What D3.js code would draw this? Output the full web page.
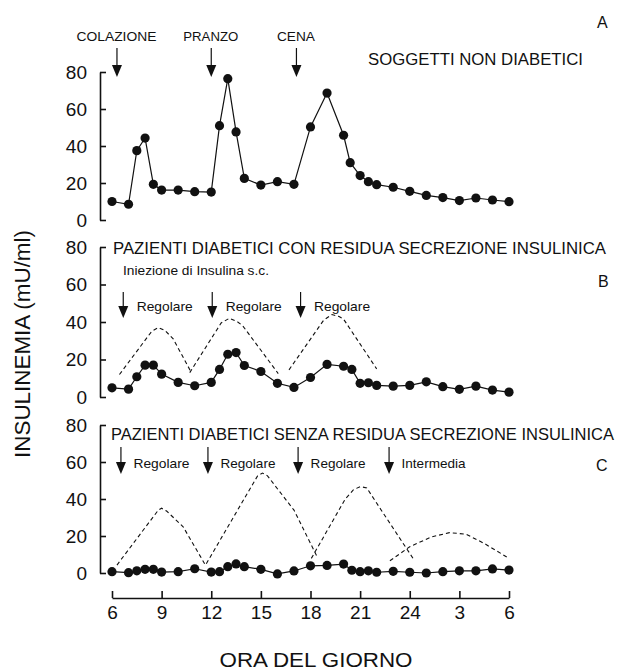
<!DOCTYPE html>
<html>
<head>
<meta charset="utf-8">
<script src="https://cdn.jsdelivr.net/npm/d3@7"></script>
<style>
  html, body { margin: 0; padding: 0; background: #fff; }
  svg { display: block; }
  text { font-family: "Liberation Sans", Arial, sans-serif; fill: #111; }
</style>
</head>
<body>
<svg id="chart" width="624" height="672"></svg>
<script>
// ---------- DATA ----------
const hourTicks = [6, 9, 12, 15, 18, 21, 24, 27, 30];
const hourLabels = ["6", "9", "12", "15", "18", "21", "24", "3", "6"];
const yTicks = [0, 20, 40, 60, 80];

// Panel A: soggetti non diabetici
const timesA = [6, 7, 7.5, 8, 8.5, 9, 10, 11, 12, 12.5, 13, 13.5, 14, 15, 16, 17, 18, 19, 20, 20.4, 21, 21.5, 22, 23, 24, 25, 26, 27, 28, 29, 30];
const valuesA = [10, 8.5, 37.5, 44.3, 19.3, 16.2, 16.2, 15.3, 15.1, 51, 76.4, 47.6, 22.5, 18.9, 20.7, 19.3, 50.3, 68.6, 45.8, 31, 24, 20.7, 19.1, 17.7, 15.5, 13.3, 12.1, 10.5, 11.9, 10.8, 9.9];
const mealTimes = [6.3, 12.0, 17.15];
const mealLabels = ["COLAZIONE", "PRANZO", "CENA"];

// Panel B: diabetici con residua secrezione
const timesB = [6, 7, 7.5, 8, 8.5, 9, 10, 11, 12, 12.5, 13, 13.5, 14, 15, 16, 17, 18, 19, 20, 20.5, 21, 21.5, 22, 23, 24, 25, 26, 27, 28, 29, 30];
const valuesB = [4.9, 4.2, 10.8, 17, 17, 12.2, 7.8, 6.0, 7.8, 14.7, 22.8, 23.7, 16.8, 13.6, 7.3, 5.1, 10.4, 17.4, 16.4, 14.7, 7.3, 7.6, 6.2, 5.8, 6.2, 8.1, 5.5, 4.1, 5.8, 3.7, 2.6];
const injTimesB = [6.68, 12.06, 17.4];
const injLabelsB = ["Regolare", "Regolare", "Regolare"];
const curvesB = [
  [[6.45, 12], [8.4, 35], [8.8, 37], [9.2, 35.5], [9.7, 31], [10.8, 13]],
  [[10.7, 13], [12.6, 39.5], [13.1, 42], [13.6, 40], [13.9, 38], [16.05, 12.5]],
  [[16.7, 14.5], [18.8, 41], [19.3, 44], [19.7, 43], [20.0, 41.5], [22.0, 15]]
];

// Panel C: diabetici senza residua secrezione
const timesC = [6, 7, 7.5, 8, 8.5, 9, 10, 11, 12, 12.5, 13, 13.5, 14, 15, 16, 17, 18, 19, 20, 20.5, 21, 21.5, 22, 23, 24, 25, 26, 27, 28, 29, 30];
const valuesC = [0.7, 0.2, 1.2, 2.0, 2.0, 0.5, 0.7, 2.3, 0.5, 0.7, 3.4, 4.9, 3.4, 2.0, -0.5, 1.1, 3.9, 4.1, 4.8, 1.5, 0.7, 1.2, 0.4, 0.9, 0.4, 0, 0.7, 1.2, 1.2, 2.2, 1.6];
const injTimesC = [6.54, 11.8, 17.25, 22.75];
const injLabelsC = ["Regolare", "Regolare", "Regolare", "Intermedia"];
const curvesC = [
  [[6.3, 4.3], [8.8, 34], [9.0, 35], [9.3, 33.5], [10.3, 25], [11.6, 5]],
  [[11.7, 5], [14.8, 52.5], [15.1, 54], [15.4, 52.5], [17.0, 34], [18.4, 8.8]],
  [[18.05, 7.9], [20.1, 40], [20.6, 45], [21.0, 46.7], [21.4, 46], [22.4, 32.3], [24.2, 7.9]],
  [[22.8, 6.6], [24.0, 14.2], [25.3, 19.5], [26.4, 21.8], [27.4, 21], [28.5, 16], [30, 7.9]]
];

// ---------- LAYOUT ----------
const svg = d3.select("#chart");
svg.append("rect").attr("width", 624).attr("height", 672).attr("fill", "#fff");

const x = d3.scaleLinear().domain([6, 30]).range([112, 509]);
const yA = d3.scaleLinear().domain([0, 80]).range([220, 72]);
const yB = d3.scaleLinear().domain([0, 80]).range([397, 247]);
const yC = d3.scaleLinear().domain([0, 80]).range([573, 425]);
const axisX = 100;

function yAxis(y) {
  const g = svg.append("g").attr("transform", `translate(${axisX},0)`)
    .call(d3.axisLeft(y).tickValues(yTicks).tickSizeInner(-6).tickSizeOuter(0).tickPadding(13).tickFormat(d3.format("d")));
  g.select(".domain").attr("stroke", "#111").attr("stroke-width", 1.6);
  g.selectAll(".tick line").attr("stroke", "#111").attr("stroke-width", 1.6);
  g.selectAll(".tick text").attr("font-size", 19).attr("font-family", "Liberation Sans, Arial, sans-serif").attr("fill", "#111");
}
[yA, yB, yC].forEach(yAxis);

// X axis
const gx = svg.append("g").attr("transform", "translate(0,598)")
  .call(d3.axisBottom(x).tickValues(hourTicks).tickSizeInner(-7).tickSizeOuter(0).tickPadding(8)
    .tickFormat((d, i) => hourLabels[i]));
gx.select(".domain").attr("stroke", "#111").attr("stroke-width", 1.6);
gx.selectAll(".tick line").attr("stroke", "#111").attr("stroke-width", 1.6);
gx.selectAll(".tick text").attr("font-size", 19).attr("font-family", "Liberation Sans, Arial, sans-serif").attr("fill", "#111");

svg.append("text").attr("x", 316).attr("y", 667).attr("text-anchor", "middle")
  .attr("font-size", 21)
  .attr("textLength", 193).attr("lengthAdjust", "spacingAndGlyphs").text("ORA DEL GIORNO");

svg.append("text").attr("transform", "translate(23,344) rotate(-90)").attr("text-anchor", "middle")
  .attr("dominant-baseline", "central").attr("font-size", 21.5)
  .attr("textLength", 228).attr("lengthAdjust", "spacingAndGlyphs").text("INSULINEMIA (mU/ml)");

// ---------- series ----------
function series(times, values, y) {
  const pts = times.map((t, i) => [t, values[i]]);
  svg.append("path").datum(pts)
    .attr("d", d3.line().x(d => x(d[0])).y(d => y(d[1])))
    .attr("fill", "none").attr("stroke", "#111").attr("stroke-width", 1.2);
  svg.append("g").selectAll("circle").data(pts).join("circle")
    .attr("cx", d => x(d[0])).attr("cy", d => y(d[1])).attr("r", 4.6).attr("fill", "#111");
}
function dashed(curves, y) {
  curves.forEach(c => {
    svg.append("path").datum(c)
      .attr("d", d3.line().x(d => x(d[0])).y(d => y(d[1])))
      .attr("fill", "none").attr("stroke", "#111").attr("stroke-width", 1.1)
      .attr("stroke-dasharray", "4,3");
  });
}
function arrow(xp, y0, y1) {
  svg.append("line").attr("x1", xp).attr("x2", xp).attr("y1", y0).attr("y2", y1 - 10)
    .attr("stroke", "#111").attr("stroke-width", 1.2);
  svg.append("path").attr("d", `M${xp - 5},${y1 - 12} L${xp + 5},${y1 - 12} L${xp},${y1} Z`).attr("fill", "#111");
}

dashed(curvesB, yB);
dashed(curvesC, yC);
series(timesA, valuesA, yA);
series(timesB, valuesB, yB);
series(timesC, valuesC, yC);

// Panel A annotations
const mealWidths = [80, 55, 38];
mealTimes.forEach((t, i) => {
  arrow(x(t), 48, 77);
  svg.append("text").attr("x", x(t) - 0.5).attr("y", 36).attr("text-anchor", "middle")
    .attr("dominant-baseline", "central").attr("font-size", 13)
    .attr("textLength", mealWidths[i]).attr("lengthAdjust", "spacingAndGlyphs").text(mealLabels[i]);
});
svg.append("text").attr("x", 368).attr("y", 59).attr("dominant-baseline", "central").attr("font-size", 16)
  .attr("textLength", 215).attr("lengthAdjust", "spacingAndGlyphs").text("SOGGETTI NON DIABETICI");
svg.append("text").attr("x", 597).attr("y", 22).attr("dominant-baseline", "central").attr("font-size", 16).text("A");

// Panel B annotations
svg.append("text").attr("x", 113).attr("y", 248).attr("dominant-baseline", "central").attr("font-size", 16.5)
  .attr("textLength", 493).attr("lengthAdjust", "spacingAndGlyphs").text("PAZIENTI DIABETICI CON RESIDUA SECREZIONE INSULINICA");
svg.append("text").attr("x", 123).attr("y", 270).attr("dominant-baseline", "central").attr("font-size", 13)
  .attr("textLength", 146).attr("lengthAdjust", "spacingAndGlyphs").text("Iniezione di Insulina s.c.");
svg.append("text").attr("x", 598).attr("y", 281).attr("dominant-baseline", "central").attr("font-size", 16).text("B");
injTimesB.forEach((t, i) => {
  arrow(x(t), 292, 318);
  svg.append("text").attr("x", x(t) + 13.5).attr("y", 306).attr("dominant-baseline", "central").attr("font-size", 13)
    .attr("textLength", 56).attr("lengthAdjust", "spacingAndGlyphs").text(injLabelsB[i]);
});

// Panel C annotations
svg.append("text").attr("x", 111).attr("y", 434).attr("dominant-baseline", "central").attr("font-size", 16.4)
  .attr("textLength", 503).attr("lengthAdjust", "spacingAndGlyphs").text("PAZIENTI DIABETICI SENZA RESIDUA SECREZIONE INSULINICA");
svg.append("text").attr("x", 596).attr("y", 465).attr("dominant-baseline", "central").attr("font-size", 16).text("C");
const injWidthsC = [56, 55, 55, 64];
injTimesC.forEach((t, i) => {
  arrow(x(t), 447, 474);
  svg.append("text").attr("x", x(t) + 12.5).attr("y", 463).attr("dominant-baseline", "central").attr("font-size", 13)
    .attr("textLength", injWidthsC[i]).attr("lengthAdjust", "spacingAndGlyphs").text(injLabelsC[i]);
});
</script>
</body>
</html>
